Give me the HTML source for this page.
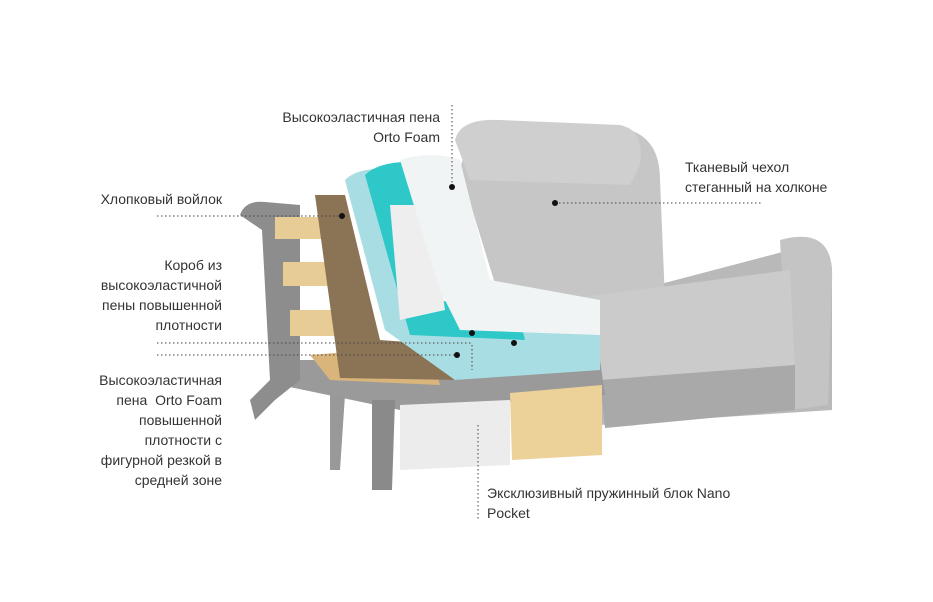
<!DOCTYPE html>
<html><head><meta charset="utf-8"><style>
body{margin:0;background:#fff;width:933px;height:602px;overflow:hidden;position:relative;font-family:"Liberation Sans",sans-serif;}
.t{position:absolute;font-size:14px;line-height:20px;color:#333;}
.r{text-align:right;}
svg{position:absolute;left:0;top:0;}
</style></head><body>
<svg width="933" height="602">
<!-- sofa body -->
<path d="M600 300 L790 250 Q830 235 832 270 L832 410 L600 425 Z" fill="#b9b9b9"/>
<path d="M780 240 Q835 225 832 280 L828 405 L790 410 Z" fill="#c4c4c4"/>
<path d="M460 170 Q470 120 520 125 L630 130 Q660 140 660 180 L665 300 L600 310 L500 300 Z" fill="#c6c6c6"/>
<path d="M455 140 Q460 118 500 120 L620 125 Q645 130 640 165 L630 185 L470 180 Z" fill="#cfcfcf"/>
<path d="M560 300 L790 270 L795 370 L600 385 Z" fill="#cbcbcb"/>
<path d="M600 380 L795 365 L795 410 L605 428 Z" fill="#a9a9a9"/>
<!-- frame -->
<path d="M280 360 L600 360 L605 395 L400 410 L280 385 Z" fill="#9a9a9a"/>
<path d="M400 405 L510 400 L510 465 L400 470 Z" fill="#ececec"/>
<path d="M510 393 L602 385 L602 455 L512 460 Z" fill="#ecd199"/>
<path d="M372 400 L395 400 L392 490 L372 490 Z" fill="#8a8a8a"/>
<path d="M240 215 Q245 200 265 202 L300 205 L300 380 L275 400 L255 420 L250 400 L270 380 L262 230 Z" fill="#8d8d8d"/>
<path d="M330 395 L345 395 L340 470 L330 470 Z" fill="#999"/>
<!-- slats -->
<rect x="275" y="217" width="58" height="22" fill="#e8cc96"/>
<rect x="283" y="262" width="48" height="24" fill="#e8cc96"/>
<rect x="290" y="310" width="50" height="26" fill="#e8cc96"/>
<path d="M310 355 L430 345 L440 385 L330 380 Z" fill="#d9b57c"/>
<!-- felt -->
<path d="M315 195 L345 195 L380 340 L450 345 L460 380 L340 378 Z" fill="#8b7355"/>
<!-- foam -->
<path d="M345 180 Q360 165 400 170 L440 330 L600 330 L600 370 L455 380 L385 330 Z" fill="#a8dde3"/>
<path d="M365 175 Q380 160 420 162 L440 300 L520 320 L525 340 L410 335 Z" fill="#2ec8c8"/>
<path d="M390 205 L430 205 L445 310 L400 320 Z" fill="#eeeeee"/>
<path d="M400 160 Q430 150 460 160 L490 280 L600 300 L600 335 L460 330 L440 290 Z" fill="#f0f4f4"/>
<!-- dotted lines -->
<g stroke="#444" stroke-width="1" stroke-dasharray="1.5,2.5" fill="none">
<line x1="452" y1="105" x2="452" y2="185"/>
<line x1="555" y1="203" x2="762" y2="203"/>
<line x1="157" y1="216" x2="342" y2="216"/>
<line x1="157" y1="343" x2="472" y2="343"/>
<line x1="157" y1="355" x2="457" y2="355"/>
<line x1="472" y1="345" x2="472" y2="370"/>
<line x1="478" y1="425" x2="478" y2="520"/>
</g>
<g fill="#111"><circle cx="452" cy="187" r="3"/><circle cx="555" cy="203" r="3"/><circle cx="342" cy="216" r="3"/><circle cx="472" cy="333" r="3"/><circle cx="457" cy="355" r="3"/><circle cx="514" cy="343" r="3"/></g>
</svg>
<div class="t r" style="right:493px;top:107px;">Высокоэластичная пена<br>Orto Foam</div>
<div class="t" style="left:685px;top:157px;">Тканевый чехол<br>стеганный на холконе</div>
<div class="t r" style="right:711px;top:189px;">Хлопковый войлок</div>
<div class="t r" style="right:711px;top:255px;">Короб из<br>высокоэластичной<br>пены повышенной<br>плотности</div>
<div class="t r" style="right:711px;top:370px;">Высокоэластичная<br>пена&nbsp; Orto Foam<br>повышенной<br>плотности с<br>фигурной резкой в<br>средней зоне</div>
<div class="t" style="left:487px;top:483px;">Эксклюзивный пружинный блок Nano<br>Pocket</div>
</body></html>
